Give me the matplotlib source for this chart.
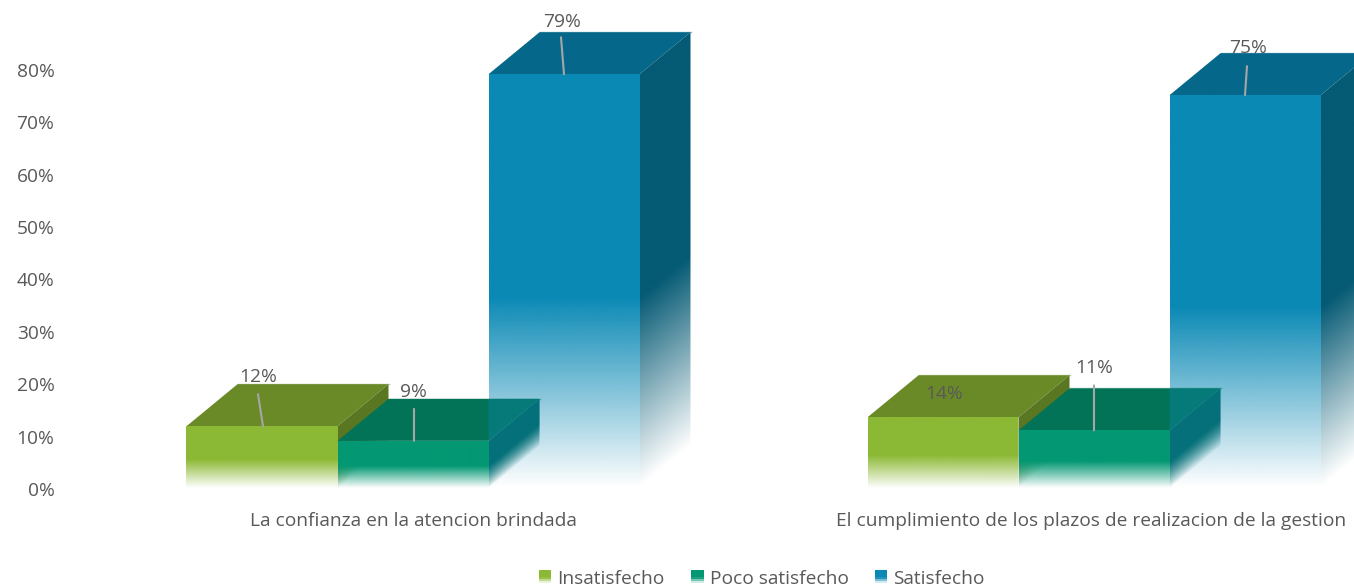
import numpy as np
import matplotlib
matplotlib.use('Agg')
import matplotlib.pyplot as plt
from matplotlib.patches import Polygon, Rectangle, Patch
from matplotlib.legend_handler import HandlerBase
from matplotlib.colors import to_rgb
from matplotlib.transforms import ScaledTranslation

categories = ['La confianza en la atencion brindada',
              'El cumplimiento de los plazos de realizacion de la gestion']
series_names = ['Insatisfecho', 'Poco satisfecho', 'Satisfecho']
insatisfecho = [11.8, 13.5]
poco_satisfecho = [9, 11]
satisfecho = [79, 75]
y_ticks = [0, 10, 20, 30, 40, 50, 60, 70, 80]

plt.rcParams['font.family'] = ['Open Sans', 'DejaVu Sans']
TEXT = '#595959'
FONT = 13.8

W, H = 1354, 588
AX_LEFT, AX_BOTTOM = 60, 488      # pixel position of the axes corner
PX_PER_CAT = 681
PX_PER_PCT = 5.2375
CAT0_PX = 413

BAR_W = 151 / PX_PER_CAT
DEPTH_X = 51 / PX_PER_CAT
DEPTH_Y = 42 / PX_PER_PCT
FADE_STOP = 0.46   # part of the bar height that fades out to white

# front, top, side
colors = {
    'Insatisfecho': ('#8CB935', '#6A8A28', '#5A7722'),
    'Poco satisfecho': ('#039873', '#037358', '#03645A'),
    'Satisfecho': ('#0A89B5', '#05688A', '#055A74'),
}

fig = plt.figure(figsize=(W / 100, H / 100), dpi=100)
ax = fig.add_axes([AX_LEFT / W, (H - AX_BOTTOM) / H, (W - AX_LEFT) / W, AX_BOTTOM / H])
ax.set_xlim((AX_LEFT - CAT0_PX) / PX_PER_CAT, (W - CAT0_PX) / PX_PER_CAT)
ax.set_ylim(0, AX_BOTTOM / PX_PER_PCT)
ax.autoscale(False)
for s in ax.spines.values():
    s.set_visible(False)


def shade(poly, x0, x1, y0, y1, color, height, sheared, z, strength=1.0):
    # face with a vertical fade, clipped to poly
    xs = np.linspace(0, 1, 160)
    ys = np.linspace(y0, y1, 240)
    U, Y = np.meshgrid(xs, ys)
    base = U * DEPTH_Y * (x1 - x0) / DEPTH_X if sheared else 0 * U
    if sheared:
        base = base + (x0 - poly[0][0]) / DEPTH_X * DEPTH_Y
    alpha = np.clip((Y - base) / (height * FADE_STOP), 0, 1) * strength
    img = np.zeros(Y.shape + (4,))
    img[..., :3] = to_rgb(color)
    img[..., 3] = alpha
    im = ax.imshow(img, extent=(x0, x1, y0, y1), origin='lower', aspect='auto',
                   interpolation='bilinear', zorder=z)
    im.set_clip_path(Polygon(poly, closed=True, transform=ax.transData))


def draw_bar(x, v, name, z):
    front, top, side = colors[name]
    top_poly = [(x, v), (x + BAR_W, v), (x + BAR_W + DEPTH_X, v + DEPTH_Y), (x + DEPTH_X, v + DEPTH_Y)]
    side_poly = [(x + BAR_W, 0), (x + BAR_W + DEPTH_X, DEPTH_Y), (x + BAR_W + DEPTH_X, v + DEPTH_Y), (x + BAR_W, v)]
    front_poly = [(x, 0), (x + BAR_W, 0), (x + BAR_W, v), (x, v)]
    ax.add_patch(Polygon(top_poly, closed=True, facecolor=top, edgecolor='none', zorder=z))
    ax.plot([x + DEPTH_X, x + BAR_W + DEPTH_X], [v + DEPTH_Y, v + DEPTH_Y], color=top, alpha=0.45, lw=1, zorder=z)
    shade(side_poly, x + BAR_W, x + BAR_W + DEPTH_X, 0, v + DEPTH_Y, side, v, True, z + 0.1)
    shade(front_poly, x, x + BAR_W, 0, v, front, v, False, z + 0.2)
    return top_poly, side_poly


for i in range(len(categories)):
    x_green = i - 1.5 * BAR_W
    x_teal = i - 0.5 * BAR_W
    x_blue = i + 0.5 * BAR_W
    draw_bar(x_blue, satisfecho[i], 'Satisfecho', 2)
    draw_bar(x_green, insatisfecho[i], 'Insatisfecho', 3)
    top_poly, side_poly = draw_bar(x_teal, poco_satisfecho[i], 'Poco satisfecho', 4)

    # the blue front shows through where the teal bar overlaps it
    blue = colors['Satisfecho'][0]
    x_end = x_blue + DEPTH_X
    v = poco_satisfecho[i]
    shade(side_poly, x_blue, x_end, 0, v + DEPTH_Y, blue, v, True, 4.5, strength=0.35)
    im_top = [(x_blue, v), (x_end, v + DEPTH_Y), (x_blue, v + DEPTH_Y)]
    ax.add_patch(Polygon(im_top, closed=True, facecolor=blue, alpha=0.35, edgecolor='none', zorder=4.5))

# data labels, offsets in pixels from the middle of the bar's front top edge
all_values = [insatisfecho, poco_satisfecho, satisfecho]
label_offsets = [[(-4, 49), (1, 23)], [(0, 49), (0, 62)], [(-2, 52), (3, 47)]]
leader_starts = [[(-5, 32), None], [(0, 32), (0, 45)], [(-3, 37), (2, 29)]]
leader_ends = [[(1, 0), None], [(1, 0), (0, 0)], [(0, 0), (0, 0)]]
for j, vals in enumerate(all_values):
    for i, v in enumerate(vals):
        cx = i + (j - 1) * BAR_W
        if leader_starts[j][i] is not None:
            sx, sy = leader_starts[j][i]
            ex, ey = leader_ends[j][i]
            ax.annotate('', xy=(cx + ex / PX_PER_CAT, v), xytext=(sx, sy), textcoords='offset pixels',
                        arrowprops=dict(arrowstyle='-', color='#A6A6A6', lw=1.5, shrinkA=0, shrinkB=0),
                        zorder=8, annotation_clip=False)
        ax.annotate(f'{v:.0f}%', xy=(cx, v), xytext=label_offsets[j][i], textcoords='offset pixels',
                    ha='center', va='center', fontsize=FONT, color=TEXT, zorder=9)

ax.set_yticks(y_ticks)
ax.set_yticklabels([f'{t}%' for t in y_ticks], fontsize=FONT, color=TEXT)
ax.set_xticks(range(len(categories)))
ax.set_xticklabels(categories, fontsize=FONT, color=TEXT)
ax.tick_params(axis='both', length=0)
ax.tick_params(axis='y', pad=4)
ax.tick_params(axis='x', pad=17.5)
shift = ScaledTranslation(0, -1 / 100, fig.dpi_scale_trans)
for lab in ax.get_yticklabels():
    lab.set_transform(lab.get_transform() + shift)
# the long category label sits a little left of its bars
lab = ax.get_xticklabels()[1]
lab.set_transform(lab.get_transform() + ScaledTranslation(-2.5 / 100, 0, fig.dpi_scale_trans))


class FadeSwatch(HandlerBase):
    # legend square with the same fade as the bars
    def create_artists(self, legend, orig, xd, yd, width, height, fontsize, trans):
        color = to_rgb(orig.get_facecolor()[:3])
        parts = []
        steps = 6
        for k in range(steps):
            frac = k / steps
            mix = min(1, (frac + 0.5 / steps) / FADE_STOP)
            c = tuple(1 - (1 - ch) * mix for ch in color)
            parts.append(Rectangle((-xd, -yd + frac * height), width, height / steps + 0.1,
                                   facecolor=c, edgecolor='none', transform=trans))
        return parts


handles = [Patch(facecolor=colors[n][0], label=n) for n in series_names]
leg = ax.legend(handles=handles, loc='center', ncol=3, frameon=False, fontsize=FONT, labelcolor=TEXT,
                bbox_to_anchor=((762 - AX_LEFT) / (W - AX_LEFT), (488 - 578.5) / 488),
                handlelength=0.63, handleheight=0.63, handletextpad=0.31, columnspacing=1.41,
                borderpad=0, handler_map={Patch: FadeSwatch()})

fig.savefig('out.png', dpi=100)
